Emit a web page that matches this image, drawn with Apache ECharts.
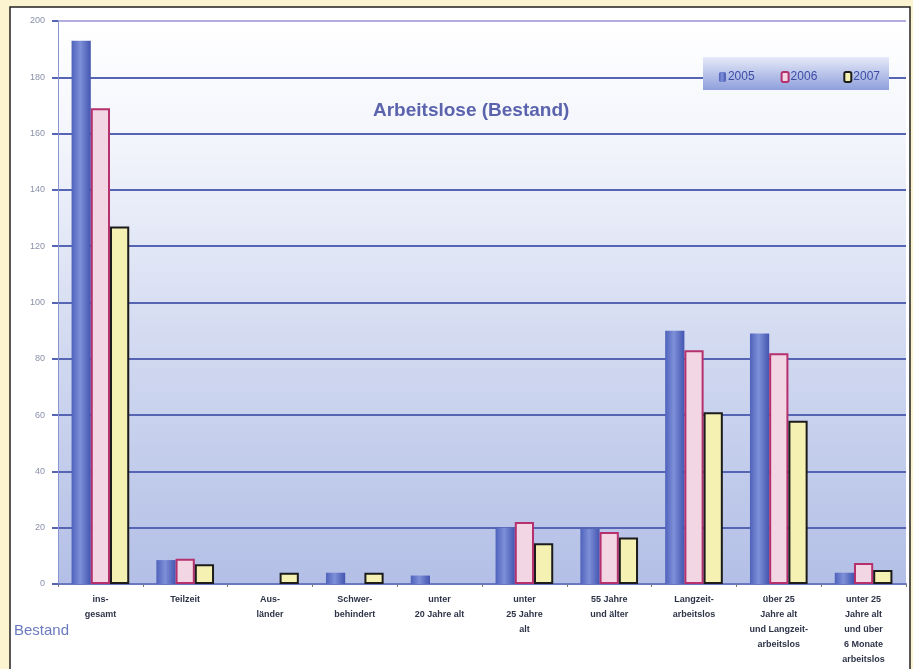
<!DOCTYPE html>
<html>
<head>
<meta charset="utf-8">
<script src="https://cdn.jsdelivr.net/npm/echarts@6/dist/echarts.min.js"></script>
<style>
    html, body {margin: 0; padding: 0; background: #fcf3d0;}
    #chart {width: 913px; height: 669px;}
</style>
</head>
<body>
<div id="chart"></div>
<script>
// Kategorien und Werte (Bestand)
var categories = ['ins-\ngesamt', 'Teilzeit', 'Aus-\nländer', 'Schwer-\nbehindert', 'unter\n20 Jahre alt',
    'unter\n25 Jahre\nalt', '55 Jahre\nund älter', 'Langzeit-\narbeitslos',
    'über 25\nJahre alt\nund Langzeit-\narbeitslos', 'unter 25\nJahre alt\nund über\n6 Monate\narbeitslos'];
var years = ['2005', '2006', '2007'];
var values2005 = [193, 8.5, 0, 4, 3, 20, 19.5, 90, 89, 4];
var values2006 = [169, 9, 0, 0, 0, 22, 18.5, 83, 82, 7.5];
var values2007 = [127, 7, 4, 4, 0, 14.5, 16.5, 61, 58, 5];
var yTicks = [0, 20, 40, 60, 80, 100, 120, 140, 160, 180, 200];

var font = '"Liberation Sans", Arial, sans-serif';

// leere Werte nicht zeichnen
function noZero(arr) {
    return arr.map(function (v) { return v === 0 ? '-' : v; });
}

// Gitterlinien: oberste Linie heller
var gridColors = yTicks.map(function (t, i) {
    return i === yTicks.length - 1 ? '#b4aee0' : '#5664b4';
});

var myChart = echarts.init(document.getElementById('chart'));

myChart.setOption({
    backgroundColor: '#fcf3d0',
    animation: false,
    title: {
        text: 'Arbeitslose (Bestand)',
        left: 368,
        top: 96,
        textStyle: {
            color: '#5b63ad',
            fontSize: 19,
            fontWeight: 'bold',
            fontFamily: font
        }
    },
    graphic: [
        {
            type: 'rect',
            z: -10,
            shape: {x: 10, y: 7, width: 900, height: 680},
            style: {fill: '#ffffff', stroke: '#222222', lineWidth: 1.5}
        },
        {
            type: 'rect',
            z: 5,
            shape: {x: 703, y: 57, width: 186, height: 33},
            style: {
                fill: new echarts.graphic.LinearGradient(0, 0, 0, 1, [
                    {offset: 0, color: '#e6eaf8'},
                    {offset: 1, color: '#8e9fdc'}
                ])
            }
        },
        {
            type: 'text',
            left: 14,
            top: 623,
            style: {
                text: 'Bestand',
                fill: '#6a7ac0',
                font: '15px ' + font
            }
        }
    ],
    legend: {
        data: years,
        right: 28,
        top: 66,
        itemGap: 26,
        itemWidth: 7,
        itemHeight: 10,
        z: 6,
        textStyle: {
            color: '#3b4ca4',
            fontSize: 12,
            fontFamily: font,
            padding: [0, 0, 0, -3]
        }
    },
    grid: {
        left: 58,
        right: 7,
        top: 21,
        bottom: 85,
        show: true,
        borderWidth: 0,
        backgroundColor: new echarts.graphic.LinearGradient(0, 0, 0, 1, [
            {offset: 0, color: '#ffffff'},
            {offset: 0.2, color: '#f4f6fc'},
            {offset: 0.6, color: '#d0d8f0'},
            {offset: 1, color: '#b3bfe6'}
        ])
    },
    xAxis: {
        type: 'category',
        data: categories,
        axisLine: {lineStyle: {color: '#6a78c0', width: 2}},
        axisTick: {show: true, length: 3, lineStyle: {color: '#777777'}},
        axisLabel: {
            interval: 0,
            margin: 8,
            color: '#2e3448',
            fontSize: 9,
            fontWeight: 'bold',
            lineHeight: 15,
            fontFamily: font
        }
    },
    yAxis: {
        type: 'value',
        min: yTicks[0],
        max: yTicks[yTicks.length - 1],
        interval: 20,
        axisLine: {show: true, lineStyle: {color: '#8a94d0', width: 1}},
        axisTick: {show: true, length: 6, lineStyle: {color: '#5664b4', width: 2}},
        axisLabel: {
            margin: 13,
            color: '#8a90a8',
            fontSize: 9,
            fontFamily: font
        },
        splitLine: {lineStyle: {color: gridColors, width: 2}}
    },
    series: [
        {
            name: years[0],
            type: 'bar',
            data: noZero(values2005),
            barGap: '0%',
            barCategoryGap: '32%',
            itemStyle: {
                color: new echarts.graphic.LinearGradient(0, 0, 1, 0, [
                    {offset: 0, color: '#4f62bb'},
                    {offset: 0.45, color: '#7e90d8'},
                    {offset: 1, color: '#4355b0'}
                ])
            }
        },
        {
            name: years[1],
            type: 'bar',
            data: noZero(values2006),
            itemStyle: {
                color: '#f2d6e4',
                borderColor: '#b5306d',
                borderWidth: 2
            }
        },
        {
            name: years[2],
            type: 'bar',
            data: noZero(values2007),
            itemStyle: {
                color: '#f5f1b2',
                borderColor: '#1c1c1c',
                borderWidth: 2
            }
        }
    ]
});
</script>
</body>
</html>
